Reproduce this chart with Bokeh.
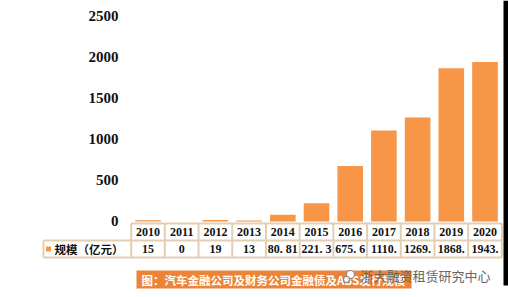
from bokeh.plotting import figure
from bokeh.models import Range1d, ColumnDataSource
from bokeh.core.properties import value
from bokeh.embed import file_html
from bokeh.resources import INLINE

# ---- data ----
years = ["2010", "2011", "2012", "2013", "2014", "2015", "2016", "2017", "2018", "2019", "2020"]
scale_values = [15, 0, 19, 13, 80.81, 221.3, 675.6, 1110.5, 1269.5, 1868.5, 1943.5]
value_labels = ["15", "0", "19", "13", "80. 81", "221. 3", "675. 6", "1110.", "1269.", "1868.", "1943."]
y_ticks = [0, 500, 1000, 1500, 2000, 2500]
series_name = "规模（亿元）"
caption = "图：汽车金融公司及财务公司金融债及ABS发行规模"
watermark = "浙大融资租赁研究中心"

W, H = 508, 297
BAR = "#F79646"
BORDER = "#E4CEB2"
SERIF = value("Liberation Serif")
CJK = value("Noto Sans CJK SC")

idx = list(range(len(years)))

p = figure(width=W, height=H, output_backend="svg", toolbar_location=None,
           x_range=Range1d(-4.377, 10.697), y_range=Range1d(-927, 2695),
           x_axis_type=None, y_axis_type=None, min_border=0,
           background_fill_color="white", border_fill_color="white")
p.outline_line_color = None
p.grid.visible = False
p.extra_x_ranges = {"px": Range1d(0, W)}
p.extra_y_ranges = {"py": Range1d(H, 0)}

# bars
src = ColumnDataSource(dict(x=idx, top=scale_values, year=years, lab=value_labels))
p.vbar(x="x", top="top", bottom=0, width=0.76, source=src, fill_color=BAR, line_color=None)

# y tick labels (data y positions)
p.text(x=[118] * len(y_ticks), y=y_ticks, text=[str(t) for t in y_ticks],
       x_range_name="px", text_align="right", text_baseline="middle",
       text_font=SERIF, text_font_style="bold", text_font_size="15px", text_color="#111111")

# table grid
n = len(years)
row_top, row_mid, row_bot = 223, 240, 257
p.segment(x0=[-0.5] * 3, x1=[n - 0.5] * 3, y0=[row_top, row_mid, row_bot], y1=[row_top, row_mid, row_bot],
          y_range_name="py", line_color=BORDER, line_width=2)
vx = [i - 0.5 for i in range(n + 1)]
p.segment(x0=vx, x1=vx, y0=[row_top] * len(vx), y1=[row_bot] * len(vx),
          y_range_name="py", line_color=BORDER, line_width=2)
# legend cell
p.segment(x0=[43, 43, 43], x1=[131, 131, 43], y0=[row_mid, row_bot, row_mid], y1=[row_mid, row_bot, row_bot],
          x_range_name="px", y_range_name="py", line_color=BORDER, line_width=2)
p.rect(x=[48], y=[248.5], width=5, height=5, x_range_name="px", y_range_name="py",
       fill_color=BAR, line_color=None)
p.text(x=[54], y=[248.5], text=[series_name], x_range_name="px", y_range_name="py",
       text_baseline="middle", text_font=CJK, text_font_style="bold", text_font_size="11.5px",
       text_color="#111111")

p.text(x="x", y=231.5, text="year", source=src, y_range_name="py", text_align="center",
       text_baseline="middle", text_font=SERIF, text_font_style="bold", text_font_size="12px",
       text_color="#111111")
p.text(x="x", y=248.5, text="lab", source=src, y_range_name="py", text_align="center",
       text_baseline="middle", text_font=SERIF, text_font_style="bold", text_font_size="12px",
       text_color="#111111")

# caption box
p.quad(left=[136], right=[411], top=[270], bottom=[288], x_range_name="px", y_range_name="py",
       fill_color="#EB8438", line_color=None)
p.text(x=[141], y=[279], text=[caption], x_range_name="px", y_range_name="py",
       text_baseline="middle", text_font=CJK, text_font_style="bold", text_font_size="11.5px",
       text_color="white")

# watermark
p.circle(x=[350, 346], y=[274, 279], radius=[4, 3], x_range_name="px", y_range_name="py",
         fill_color="white", line_color="#888888", line_width=1.2, radius_units="screen")
p.text(x=[360], y=[275], text=[watermark], x_range_name="px", y_range_name="py",
       text_baseline="middle", text_font=CJK, text_font_size="13px", text_color="#666666")

# black right strip
p.quad(left=[503], right=[508], top=[0], bottom=[285], x_range_name="px", y_range_name="py",
       fill_color="black", line_color=None)

open("out.html", "w").write(file_html(p, INLINE))
